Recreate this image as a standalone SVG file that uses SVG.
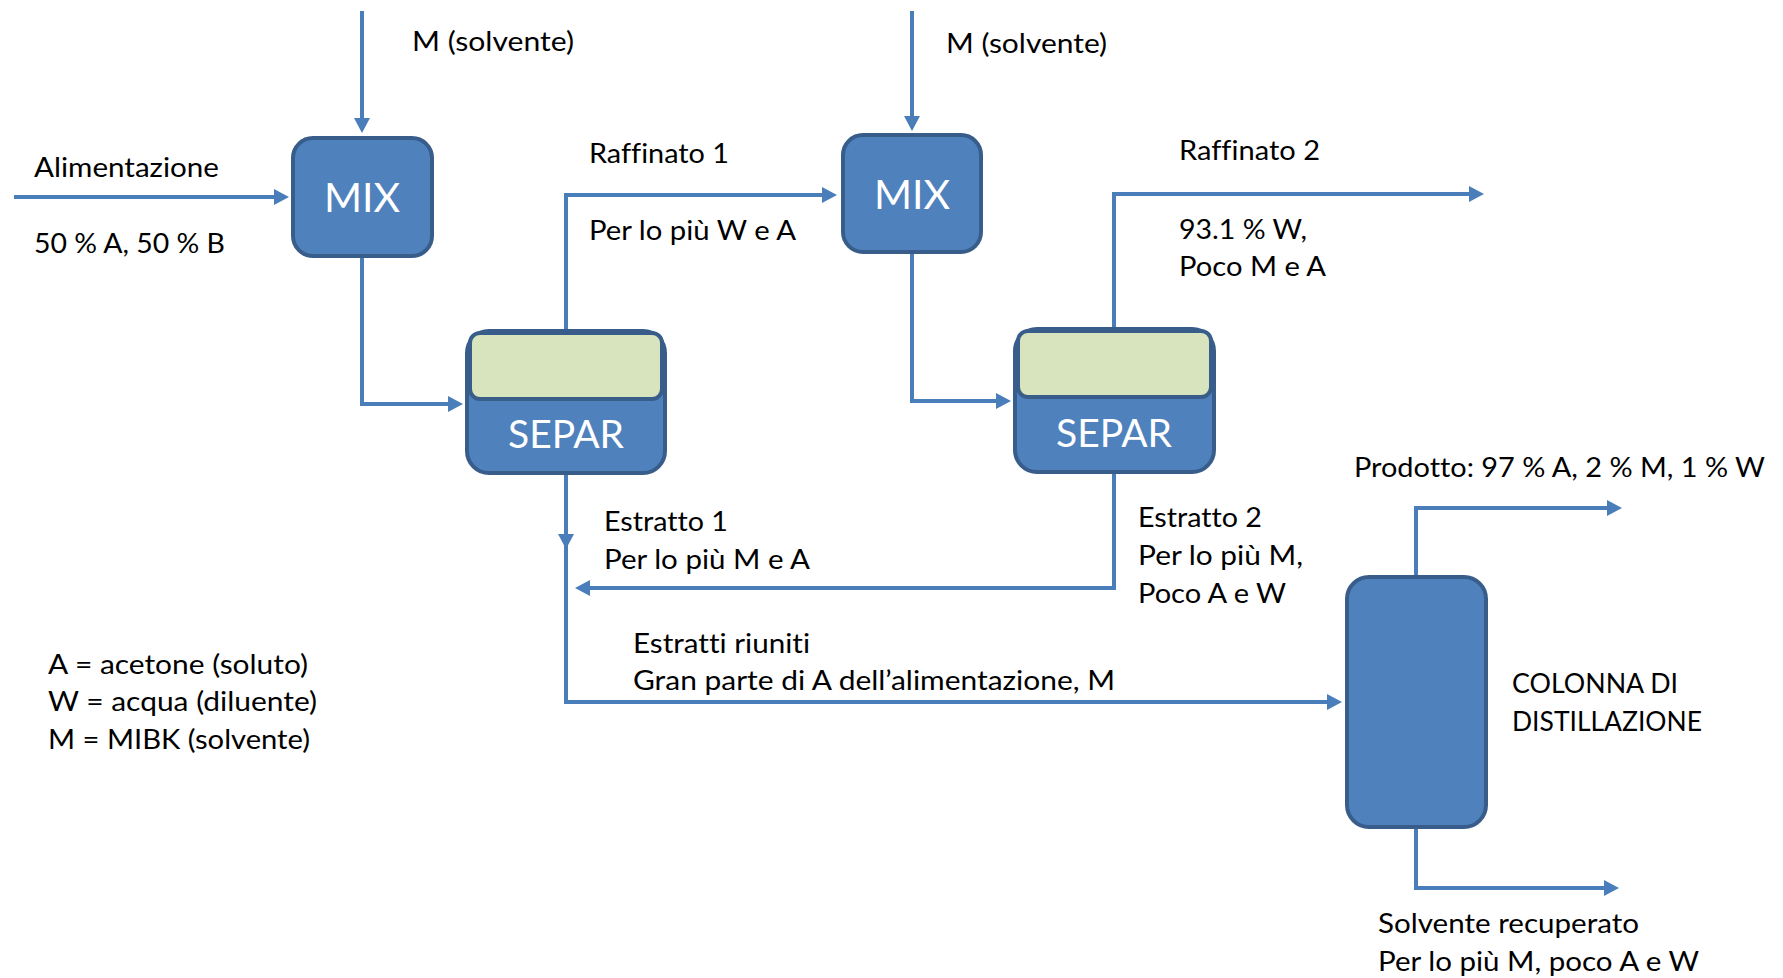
<svg xmlns="http://www.w3.org/2000/svg" width="1783" height="978" viewBox="0 0 1783 978">
<style>
.box{fill:#4F81BD;stroke:#385D8A;stroke-width:4}
.green{fill:#D7E4BD;stroke:#385D8A;stroke-width:4}
.ln{fill:none;stroke:#4A7EBB;stroke-width:4;stroke-linejoin:miter}
.t{font-family:Lato,"Open Sans","Liberation Sans",sans-serif;font-size:27px;fill:#000;font-variant-ligatures:none;font-feature-settings:"liga" 0,"dlig" 0}
.w{font-family:Lato,"Open Sans","Liberation Sans",sans-serif;fill:#fff;text-anchor:middle}
</style>
<defs>
<marker id="arr" viewBox="0 0 15 16" markerWidth="15" markerHeight="16" refX="10" refY="8" orient="auto" markerUnits="userSpaceOnUse">
<path d="M0,0 L15,8 L0,16 z" fill="#4A7EBB"/>
</marker>
</defs>
<rect width="1783" height="978" fill="#fff"/>
<g id="connectors">
<path class="ln" d="M362,11 V128" marker-end="url(#arr)"/>
<path class="ln" d="M14,197 H284" marker-end="url(#arr)"/>
<path class="ln" d="M362,256 V404 H458" marker-end="url(#arr)"/>
<path class="ln" d="M566,331 V195 H832" marker-end="url(#arr)"/>
<path class="ln" d="M912,11 V126" marker-end="url(#arr)"/>
<path class="ln" d="M912,252 V401 H1006" marker-end="url(#arr)"/>
<path class="ln" d="M1114,329 V194 H1479" marker-end="url(#arr)"/>
<path class="ln" d="M566,473 V544" marker-end="url(#arr)"/>
<path class="ln" d="M566,544 V702 H1337" marker-end="url(#arr)"/>
<path class="ln" d="M1114,472 V588 H580" marker-end="url(#arr)"/>
<path class="ln" d="M1416,577 V508 H1617" marker-end="url(#arr)"/>
<path class="ln" d="M1416,827 V888 H1614" marker-end="url(#arr)"/>
</g>
<g id="mix1">
<rect class="box" x="293" y="138" width="139" height="118" rx="20"/>
<text class="w" x="362" y="212" font-size="41">MIX</text>
</g>
<g id="mix2">
<rect class="box" x="843" y="135" width="138" height="117" rx="20"/>
<text class="w" x="912" y="209" font-size="41">MIX</text>
</g>
<g id="separ1">
<rect class="box" x="467" y="331" width="198" height="142" rx="22"/>
<rect class="green" x="470" y="333" width="192" height="66" rx="10"/>
<text class="w" x="566" y="448" font-size="39">SEPAR</text>
</g>
<g id="separ2">
<rect class="box" x="1015" y="329" width="199" height="143" rx="22"/>
<rect class="green" x="1018" y="331" width="193" height="66" rx="10"/>
<text class="w" x="1114" y="447" font-size="39">SEPAR</text>
</g>
<g id="colonna">
<rect class="box" x="1347" y="577" width="139" height="250" rx="22"/>
</g>
<g id="labels">
<text class="t" x="412" y="51" textLength="162" lengthAdjust="spacingAndGlyphs">M (solvente)</text>
<text class="t" x="946" y="53" textLength="161" lengthAdjust="spacingAndGlyphs">M (solvente)</text>
<text class="t" x="34" y="177" textLength="185" lengthAdjust="spacingAndGlyphs">Alimentazione</text>
<text class="t" x="34" y="253" textLength="191" lengthAdjust="spacingAndGlyphs">50 % A, 50 % B</text>
<text class="t" x="589" y="163" textLength="140" lengthAdjust="spacingAndGlyphs">Raffinato 1</text>
<text class="t" x="589" y="240" textLength="207" lengthAdjust="spacingAndGlyphs">Per lo più W e A</text>
<text class="t" x="1179" y="160" textLength="141" lengthAdjust="spacingAndGlyphs">Raffinato 2</text>
<text class="t" x="1179" y="239" textLength="128" lengthAdjust="spacingAndGlyphs">93.1 % W,</text>
<text class="t" x="1179" y="276" textLength="147" lengthAdjust="spacingAndGlyphs">Poco M e A</text>
<text class="t" x="604" y="531" textLength="124" lengthAdjust="spacingAndGlyphs">Estratto 1</text>
<text class="t" x="604" y="569" textLength="206" lengthAdjust="spacingAndGlyphs">Per lo più M e A</text>
<text class="t" x="1138" y="527" textLength="124" lengthAdjust="spacingAndGlyphs">Estratto 2</text>
<text class="t" x="1138" y="565" textLength="165" lengthAdjust="spacingAndGlyphs">Per lo più M,</text>
<text class="t" x="1138" y="603" textLength="148" lengthAdjust="spacingAndGlyphs">Poco A e W</text>
<text class="t" x="633" y="653" textLength="177" lengthAdjust="spacingAndGlyphs">Estratti riuniti</text>
<text class="t" x="633" y="690" textLength="482" lengthAdjust="spacingAndGlyphs">Gran parte di A dell’alimentazione, M</text>
<text class="t" x="1354" y="477" textLength="411" lengthAdjust="spacingAndGlyphs">Prodotto: 97 % A, 2 % M, 1 % W</text>
<text class="t" x="1512" y="693" textLength="166" lengthAdjust="spacingAndGlyphs">COLONNA DI</text>
<text class="t" x="1512" y="731" textLength="190" lengthAdjust="spacingAndGlyphs">DISTILLAZIONE</text>
<text class="t" x="1378" y="933" textLength="261" lengthAdjust="spacingAndGlyphs">Solvente recuperato</text>
<text class="t" x="1378" y="971" textLength="321" lengthAdjust="spacingAndGlyphs">Per lo più M, poco A e W</text>
<text class="t" x="48" y="674" textLength="260" lengthAdjust="spacingAndGlyphs">A = acetone (soluto)</text>
<text class="t" x="48" y="711" textLength="269" lengthAdjust="spacingAndGlyphs">W = acqua (diluente)</text>
<text class="t" x="48" y="749" textLength="262" lengthAdjust="spacingAndGlyphs">M = MIBK (solvente)</text>
</g>
</svg>
